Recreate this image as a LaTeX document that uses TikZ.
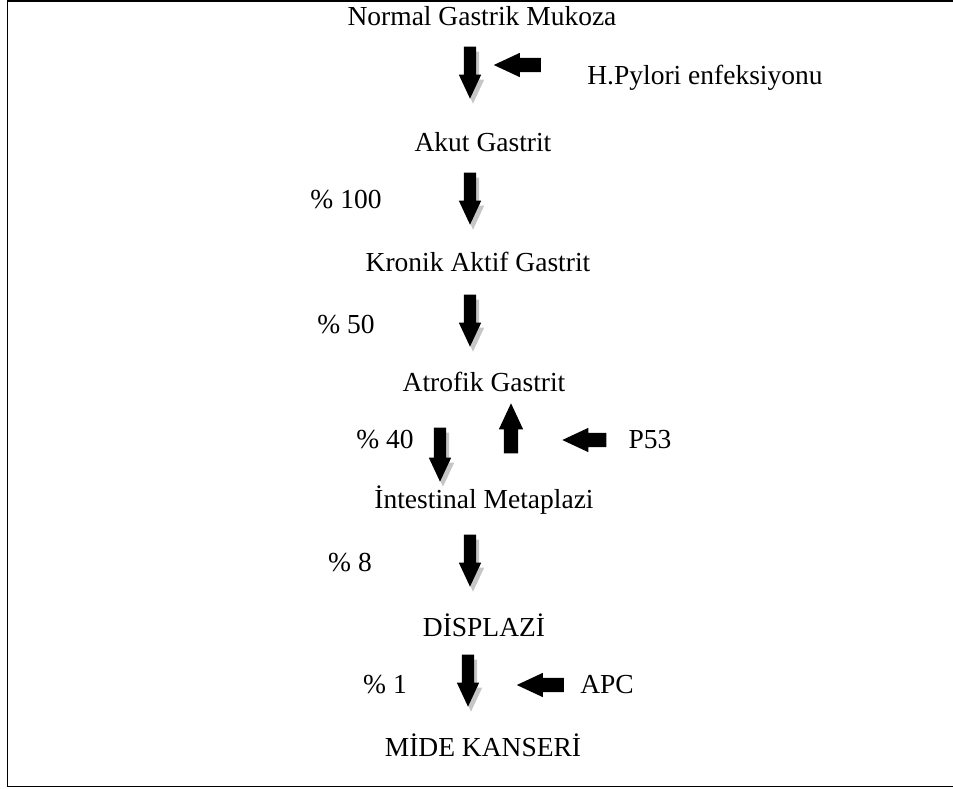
\documentclass[tikz,border=0pt]{standalone}
\usepackage{fontspec}
\setmainfont{Liberation Serif}
\usetikzlibrary{shapes.arrows,shadows}
\begin{document}
\begin{tikzpicture}[x=1pt,y=-1pt,
  lbl/.style={font=\fontsize{27.5}{32}\selectfont, inner sep=0pt, anchor=center},
  blockarrow/.style={single arrow, fill=black, draw=none, inner sep=6pt,
    minimum width=22pt, single arrow head extend=5pt,
    single arrow tip angle=50, single arrow head indent=0pt},
  downarrow/.style={blockarrow, shape border rotate=270, minimum height=52pt,
    drop shadow={shadow xshift=3pt, shadow yshift=-5pt, fill=gray!45, opacity=1}},
  uparrow/.style={blockarrow, shape border rotate=90, minimum height=50pt,
    inner sep=7pt, minimum width=24pt},
  leftarrow/.style={blockarrow, shape border rotate=180, minimum height=47pt,
    inner sep=7pt, minimum width=24pt}]
\useasboundingbox (0,0) rectangle (953,789);
% frame, open on the right
\draw[line width=1.6pt] (953,0.8) -- (7.6,0.8) -- (7.6,786.4) -- (953,786.4);

% stages
\node[lbl] (n1) at (482,16) {Normal Gastrik Mukoza};
\node[lbl] (n2) at (483,142) {Akut Gastrit};
\node[lbl] (n3) at (478,262) {Kronik Aktif Gastrit};
\node[lbl] (n4) at (484,382) {Atrofik Gastrit};
\node[lbl] (n5) at (484,500) {İntestinal Metaplazi};
\node[lbl] (n6) at (484,625) {DİSPLAZİ};
\node[lbl] (n7) at (483,745) {MİDE KANSERİ};

% factors and rates
\node[lbl] (hp) at (705,78) {H.Pylori enfeksiyonu};
\node[lbl] (p100) at (346,200) {\% 100};
\node[lbl] (p50) at (346,325) {\% 50};
\node[lbl] (p40) at (385,440) {\% 40};
\node[lbl] (p53) at (650,440) {P53};
\node[lbl] (p8) at (350,563) {\% 8};
\node[lbl] (p1) at (385,685) {\% 1};
\node[lbl] (apc) at (607,685) {APC};

% progression arrows
\node[downarrow] (a1) at (470,66) {};
\node[downarrow] (a2) at (470,192) {};
\node[downarrow] (a3) at (470,314) {};
\node[downarrow, minimum height=54pt] (a4) at (440,448) {};
\node[uparrow] (a4u) at (511,436) {};
\node[downarrow] (a5) at (470,554) {};
\node[downarrow] (a6) at (468,674) {};

% factor arrows
\node[leftarrow] (f1) at (525,65) {};
\node[leftarrow, minimum height=44pt] (f2) at (592,440) {};
\node[leftarrow] (f3) at (548,685) {};
\end{tikzpicture}
\end{document}
